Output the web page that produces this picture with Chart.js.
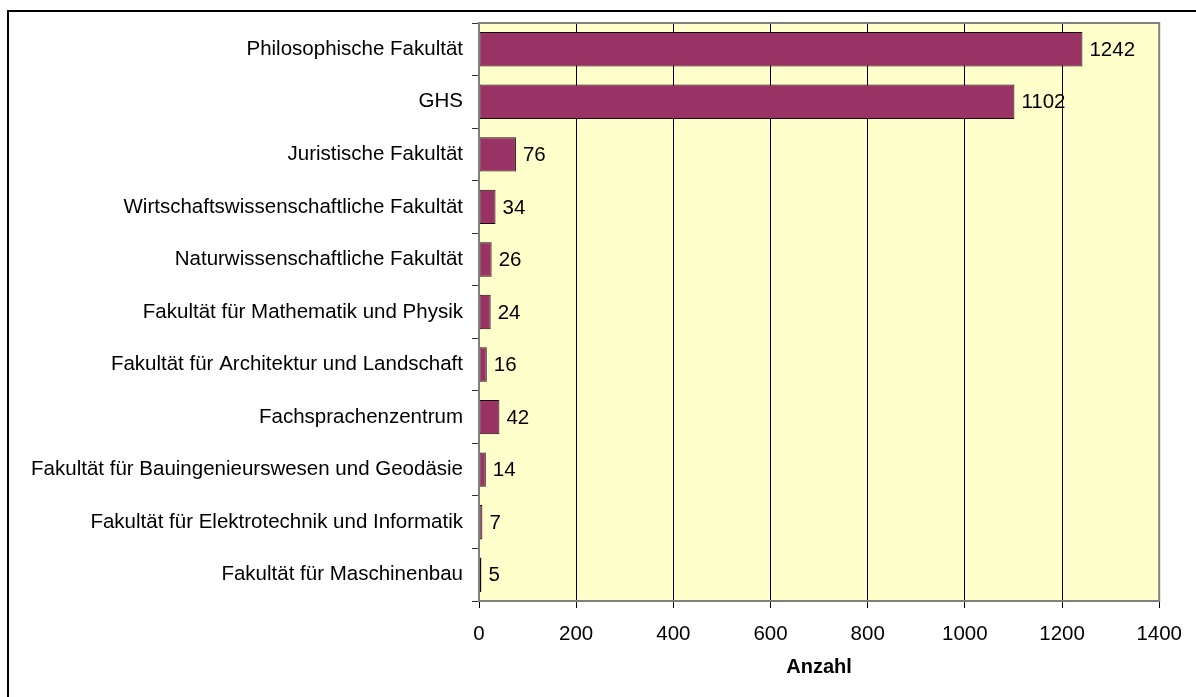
<!DOCTYPE html>
<html>
<head>
<meta charset="utf-8">
<script src="https://cdn.jsdelivr.net/npm/chart.js@4.4.1/dist/chart.umd.min.js"></script>
<style>
    html, body { margin: 0; padding: 0; background: #ffffff; }
    #wrap { position: relative; width: 1196px; height: 697px; }
</style>
</head>
<body>
<div id="wrap"><canvas id="facultyChart" width="1196" height="697"></canvas></div>
<script>
// ===========================
// DATA
// ===========================
const categories = [
    'Philosophische Fakultät',
    'GHS',
    'Juristische Fakultät',
    'Wirtschaftswissenschaftliche Fakultät',
    'Naturwissenschaftliche Fakultät',
    'Fakultät für Mathematik und Physik',
    'Fakultät für Architektur und Landschaft',
    'Fachsprachenzentrum',
    'Fakultät für Bauingenieurswesen und Geodäsie',
    'Fakultät für Elektrotechnik und Informatik',
    'Fakultät für Maschinenbau'
];
const counts = [1242, 1102, 76, 34, 26, 24, 16, 42, 14, 7, 5];
const axisTicks = [0, 200, 400, 600, 800, 1000, 1200, 1400];
const axisTitle = 'Anzahl';

const FONT = 'Liberation Sans, Arial, sans-serif';

// plot background, frame and outer border
const framePlugin = {
    id: 'frame',
    beforeDraw(chart) {
        const { ctx, chartArea: a } = chart;
        ctx.save();
        ctx.fillStyle = '#FFFFCC';
        ctx.fillRect(a.left, a.top, a.right - a.left, a.bottom - a.top);
        ctx.restore();
    },
    afterDraw(chart) {
        const { ctx, chartArea: a } = chart;
        ctx.save();
        ctx.strokeStyle = '#808080';
        ctx.lineWidth = 2;
        ctx.strokeRect(a.left, a.top, a.right - a.left, a.bottom - a.top);
        // outer chart border (top and left only visible)
        ctx.fillStyle = '#000000';
        ctx.fillRect(7, 10, 1196, 2);
        ctx.fillRect(7, 10, 2, 697);
        ctx.restore();
    }
};

// value labels right of each bar
const valueLabelPlugin = {
    id: 'valueLabels',
    afterDatasetsDraw(chart) {
        const { ctx } = chart;
        const meta = chart.getDatasetMeta(0);
        ctx.save();
        ctx.font = '20.5px ' + FONT;
        ctx.fillStyle = '#000000';
        ctx.textAlign = 'left';
        ctx.textBaseline = 'middle';
        meta.data.forEach((bar, i) => {
            ctx.fillText(String(counts[i]), bar.x + 7, bar.y + 1);
        });
        ctx.restore();
    }
};

new Chart(document.getElementById('facultyChart'), {
    type: 'bar',
    data: {
        labels: categories,
        datasets: [{
            data: counts,
            backgroundColor: '#993366',
            borderColor: '#1a0a12',
            borderWidth: 1,
            borderSkipped: false,
            categoryPercentage: 1,
            barPercentage: 0.655
        }]
    },
    options: {
        indexAxis: 'y',
        responsive: false,
        animation: false,
        layout: {
            padding: { top: 23, right: 36, bottom: 0, left: 0 }
        },
        plugins: {
            legend: { display: false },
            tooltip: { enabled: false }
        },
        scales: {
            x: {
                min: 0,
                max: 1400,
                afterFit: function(scale) { scale.height = 96; },
                afterBuildTicks: function(scale) {
                    scale.ticks = axisTicks.map(v => ({ value: v }));
                },
                border: { display: false },
                grid: {
                    color: '#000000',
                    lineWidth: 1,
                    drawTicks: true,
                    tickLength: 7,
                    tickColor: '#000000'
                },
                ticks: {
                    color: '#000000',
                    padding: 14,
                    maxRotation: 0,
                    font: { family: FONT, size: 20.5 },
                    callback: function(value) {
                        return String(value);
                    }
                },
                title: {
                    display: true,
                    text: axisTitle,
                    color: '#000000',
                    font: { family: FONT, size: 20, weight: 'bold' },
                    padding: { top: 0, bottom: 18 }
                }
            },
            y: {
                afterFit: function(scale) { scale.width = 479; },
                border: { display: false },
                grid: {
                    drawOnChartArea: false,
                    drawTicks: true,
                    tickLength: 7,
                    tickColor: '#333333'
                },
                ticks: {
                    color: '#000000',
                    padding: 9,
                    autoSkip: false,
                    font: { family: FONT, size: 20.5 }
                }
            }
        }
    },
    plugins: [framePlugin, valueLabelPlugin]
});
</script>
</body>
</html>
